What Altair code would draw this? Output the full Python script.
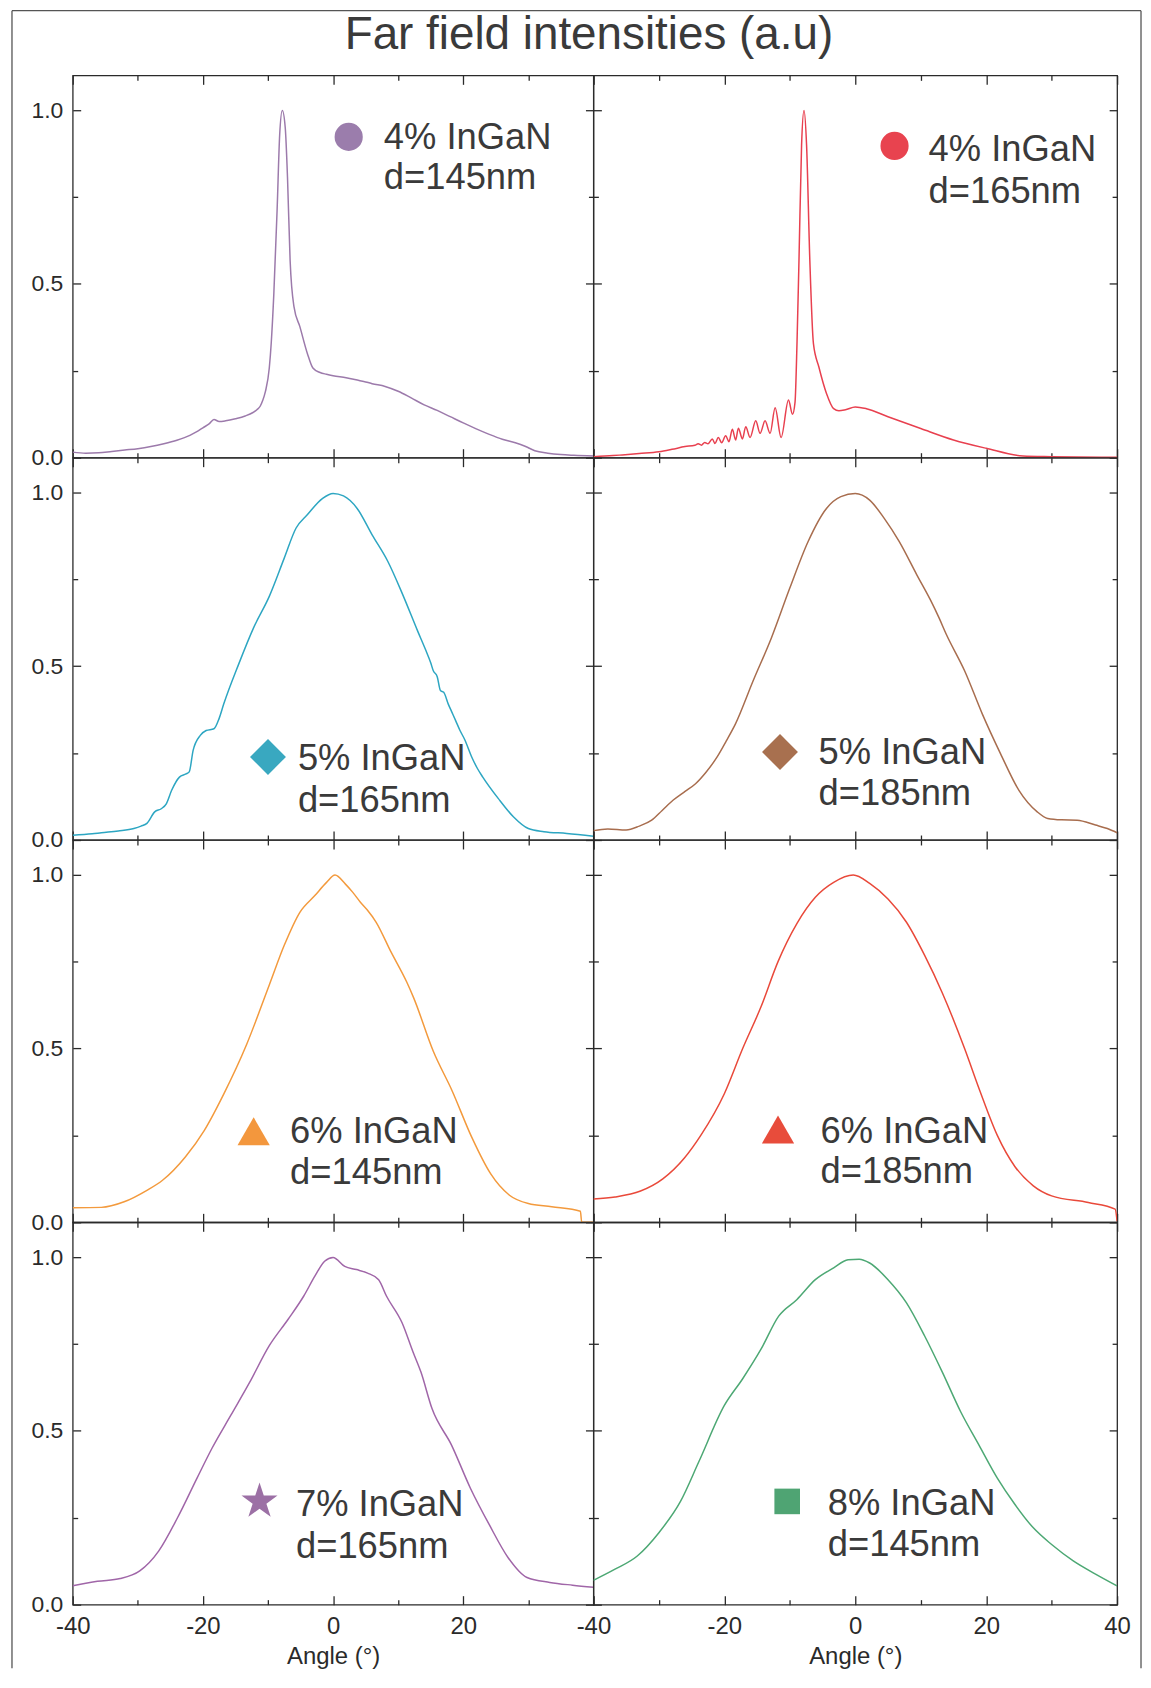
import altair as alt
import pandas as pd

# ---------------- data ----------------
ANGLE_4_145 = [-40, -38, -36, -34, -32, -30, -28, -26, -24, -22, -21, -20, -19, -18.3, -17.5, -16.5, -15,
               -13.5, -12.3, -11.7, -11.2, -10.8, -10.4, -9.8, -9.5, -9.1, -8.6, -8.2, -7.8, -7.35, -7.0,
               -6.6, -6.0, -5.1, -3.95, -3.1, -2.0, -1.0, 0, 2, 4, 5, 6, 8, 10, 12, 14, 16, 18, 20, 22, 24,
               26, 28, 29.5, 31, 33, 35, 37, 40]
INT_4_145 = [0.016, 0.013, 0.014, 0.018, 0.022, 0.026, 0.032, 0.040, 0.050, 0.064, 0.074, 0.086, 0.098,
             0.110, 0.104, 0.106, 0.112, 0.120, 0.130, 0.138, 0.148, 0.165, 0.190, 0.258, 0.330, 0.472,
             0.711, 0.930, 0.999, 0.950, 0.806, 0.568, 0.434, 0.377, 0.300, 0.258, 0.245, 0.240, 0.236,
             0.230, 0.222, 0.218, 0.213, 0.205, 0.191, 0.172, 0.152, 0.136, 0.118, 0.100, 0.083, 0.067,
             0.053, 0.043, 0.033, 0.020, 0.013, 0.009, 0.007, 0.005]

ANGLE_4_165 = [-40, -37, -35.6, -33, -30, -28, -26, -24.5, -24.0, -23.5, -23.0, -22.5, -21.84, -21.43,
               -20.92, -20.41, -19.80, -19.29, -18.78, -18.27, -17.86, -17.24, -16.73, -16.07, -15.20,
               -14.54, -13.78, -13.01, -12.24, -11.33, -10.20, -9.59, -9.2, -8.9, -8.6, -8.2, -7.83,
               -7.44, -6.94, -6.39, -5.56, -4.4, -3.3, -2.5, -1.5, 0, 1.7, 5, 10, 15, 20, 25.6, 30, 40]
INT_4_165 = [0.003, 0.006, 0.008, 0.012, 0.017, 0.024, 0.032, 0.036, 0.040, 0.036, 0.044, 0.040, 0.054,
             0.041, 0.058, 0.043, 0.063, 0.046, 0.082, 0.051, 0.085, 0.054, 0.089, 0.058, 0.106, 0.070,
             0.106, 0.070, 0.144, 0.058, 0.166, 0.125, 0.160, 0.330, 0.567, 0.900, 0.999, 0.900, 0.567,
             0.328, 0.261, 0.185, 0.141, 0.135, 0.138, 0.146, 0.141, 0.118, 0.084, 0.051, 0.027, 0.005,
             0.003, 0.001]

ANGLE_5_165 = [-40, -37, -35.6, -33, -30.6, -29.5, -28.6, -27.4, -26.4, -25.6, -24.8, -23.6, -22.6, -22.1,
               -21.5, -20.4, -19.5, -18.3, -17.5, -16.8, -14.5, -12.2, -9.8, -7.5, -5.7, -4.0, -1.6, 0,
               1.6, 3.7, 6.0, 8.4, 10.7, 13.0, 14.2, 15.0, 15.4, 16.0, 16.5, 17.0, 17.7, 18.2, 18.8, 19.5,
               20.2, 21.3, 22.2, 23.0, 25.4, 27.7, 30.0, 32.4, 35.9, 40]
INT_5_165 = [0.014, 0.018, 0.021, 0.026, 0.033, 0.040, 0.048, 0.081, 0.090, 0.105, 0.143, 0.181, 0.190,
             0.196, 0.258, 0.301, 0.315, 0.320, 0.350, 0.391, 0.506, 0.611, 0.701, 0.811, 0.897, 0.935,
             0.983, 0.997, 0.990, 0.954, 0.878, 0.802, 0.706, 0.601, 0.548, 0.510, 0.487, 0.470, 0.430,
             0.425, 0.391, 0.370, 0.345, 0.315, 0.290, 0.239, 0.205, 0.181, 0.119, 0.067, 0.033, 0.024,
             0.019, 0.011]

ANGLE_5_185 = [-40, -37.8, -35, -33, -31.1, -29.5, -27.8, -26, -24.4, -22.8, -21.1, -19.7, -18.3, -15.6,
               -12.8, -10, -7.2, -4.4, -2.2, 0, 2.2, 4.4, 6.7, 9.4, 11.5, 12.8, 13.9, 16.7, 19.4, 22.2,
               25.0, 27.8, 29.4, 31.5, 33.9, 36.7, 38.5, 40]
INT_5_185 = [0.027, 0.032, 0.029, 0.040, 0.057, 0.085, 0.115, 0.140, 0.162, 0.195, 0.239, 0.285, 0.334,
             0.458, 0.582, 0.725, 0.859, 0.954, 0.988, 0.997, 0.978, 0.926, 0.859, 0.763, 0.690, 0.639,
             0.592, 0.487, 0.363, 0.248, 0.143, 0.081, 0.062, 0.058, 0.057, 0.043, 0.033, 0.021]

ANGLE_6_145 = [-40, -35.6, -32.1, -28.6, -26.2, -22.7, -19.8, -16.8, -13.3, -9.8, -7.5, -5.1, -2.8, -1.0,
               0.3, 1.9, 3.0, 4.2, 5.2, 6.6, 8.9, 11.3, 12.4, 15.4, 18.3, 21.3, 24.2, 27.1, 30.0, 33.6,
               38.0, 38.2, 40]
INT_6_145 = [0.042, 0.043, 0.059, 0.092, 0.121, 0.188, 0.264, 0.369, 0.511, 0.683, 0.797, 0.892, 0.940,
             0.978, 0.999, 0.973, 0.950, 0.921, 0.900, 0.864, 0.778, 0.692, 0.645, 0.492, 0.378, 0.245,
             0.140, 0.078, 0.054, 0.045, 0.032, 0.000, 0.000]

ANGLE_6_185 = [-40, -36.7, -32.8, -29.4, -26.1, -23.6, -20, -17.2, -14.4, -11.8, -8.9, -6.1, -3.3, -0.3,
               2.2, 5.0, 7.8, 10.6, 13.3, 16.7, 19.0, 21.7, 24.4, 27.2, 30.0, 35.6, 39.7, 40]
INT_6_185 = [0.067, 0.073, 0.090, 0.125, 0.185, 0.250, 0.370, 0.500, 0.620, 0.750, 0.860, 0.935, 0.978,
             0.999, 0.975, 0.930, 0.864, 0.768, 0.660, 0.500, 0.380, 0.250, 0.160, 0.105, 0.076,
             0.057, 0.038, 0.003]

ANGLE_7_165 = [-40, -36.2, -32.7, -29.7, -26.8, -23.9, -20.9, -18.6, -15.7, -12.8, -9.8, -6.9, -4.5, -2.8,
               -1.3, 0, 1.8, 3.6, 5.3, 7.0, 8.2, 10.6, 12.3, 13.5, 15.2, 18.2, 21.1, 24.0, 26.9, 29.8,
               33.3, 36.8, 40]
INT_7_165 = [0.054, 0.067, 0.075, 0.097, 0.154, 0.250, 0.364, 0.450, 0.545, 0.640, 0.745, 0.821, 0.888,
             0.945, 0.988, 0.999, 0.973, 0.964, 0.954, 0.935, 0.888, 0.811, 0.726, 0.669, 0.564, 0.459,
             0.335, 0.230, 0.135, 0.078, 0.064, 0.056, 0.050]

ANGLE_8_145 = [-40, -36.7, -33.3, -30.0, -26.7, -23.9, -20, -17.2, -14.4, -11.7, -8.9, -6.1, -3.3, -1.1,
               0.6, 2.2, 5.0, 7.8, 10.6, 13.3, 16.1, 18.9, 21.7, 24.4, 27.2, 30.0, 33.3, 36.7, 40]
INT_8_145 = [0.070, 0.102, 0.140, 0.207, 0.297, 0.411, 0.573, 0.650, 0.735, 0.830, 0.878, 0.935, 0.969,
             0.992, 0.994, 0.983, 0.935, 0.869, 0.773, 0.669, 0.555, 0.459, 0.364, 0.288, 0.221, 0.173,
             0.126, 0.088, 0.054]

PANEL_ANGLES = [ANGLE_4_145, ANGLE_4_165, ANGLE_5_165, ANGLE_5_185,
                ANGLE_6_145, ANGLE_6_185, ANGLE_7_165, ANGLE_8_145]
PANEL_INTENS = [INT_4_145, INT_4_165, INT_5_165, INT_5_185,
                INT_6_145, INT_6_185, INT_7_165, INT_8_145]

LABEL_TOP = ["4% InGaN", "4% InGaN", "5% InGaN", "5% InGaN",
             "6% InGaN", "6% InGaN", "7% InGaN", "8% InGaN"]
LABEL_BOTTOM = ["d=145nm", "d=165nm", "d=165nm", "d=185nm",
                "d=145nm", "d=185nm", "d=165nm", "d=145nm"]

# legend marker / text placement (data units)
MARKER_X = [2.4, 6.0, -10.0, -11.5, -12.2, -11.8, -11.3, -10.4]
MARKER_Y = [0.923, 0.897, 0.239, 0.253, 0.262, 0.267, 0.297, 0.297]
TEXT_X = [7.8, 11.2, -5.4, -5.6, -6.6, -5.3, -5.7, -4.2]
TEXT_Y1 = [0.887, 0.854, 0.200, 0.219, 0.228, 0.229, 0.254, 0.259]
TEXT_Y2 = [0.773, 0.734, 0.081, 0.100, 0.111, 0.112, 0.135, 0.140]

X_LABELS_LEFT = [-40, -20, 0, 20]
X_LABELS_RIGHT = [-40, -20, 0, 20, 40]
X_MAJOR = [-40, -20, 0, 20, 40]
X_MINOR = [-30, -10, 10, 30]
Y_LABELS = [0, 0.5, 1.0]
Y_MINOR = [0.25, 0.75]

# ---------------- styles ----------------
LINE_COLORS = ["#9c7aab", "#e8404f", "#2da6c2", "#a86d4e", "#f39a3d", "#e9493a", "#a066a8", "#4da874"]
MARKER_COLORS = ["#9b7dac", "#e8434f", "#39a8c0", "#a8704f", "#f3973d", "#e84c3b", "#9c70a5", "#4fa473"]
STAR = ("M0,-1L0.2245,-0.309L0.951,-0.309L0.363,0.118L0.588,0.809L0,0.382L-0.588,0.809"
        "L-0.363,0.118L-0.951,-0.309L-0.2245,-0.309Z")
MARKER_SHAPES = ["circle", "circle", "diamond", "diamond", "triangle-up", "triangle-up", STAR, "square"]
MARKER_SIZES = [800, 800, 1300, 1300, 1050, 1050, 1450, 660]

FONT = "Liberation Sans, Arial, Helvetica, sans-serif"
AX = "#2a2a2a"
TXT = "#3a3a3a"
FRAME = "#555555"
PW_LEFT, PW_RIGHT, PH = 523, 526, 384
XS = alt.Scale(domain=[-40, 40], nice=False, zero=False)
YS = alt.Scale(domain=[0, 1.1], nice=False, zero=False)

# outer figure frame, in pixels relative to the top-left panel
FRAME_LEFT, FRAME_RIGHT, FRAME_TOP, FRAME_BOTTOM = -61, 1073, -65, 1600


def tick_axis(orient, values, size):
    return alt.Axis(orient=orient, values=values, tickSize=size, offset=-size, labels=False,
                    domain=False, grid=False, ticks=True, tickColor=AX, tickWidth=1.3)


dummy = pd.DataFrame({"v": [0]})


def panel(k):
    row, col = divmod(k, 2)
    df = pd.DataFrame({"angle": PANEL_ANGLES[k], "intensity": PANEL_INTENS[k]})
    base = alt.Chart(df)

    if row == 3:
        xaxis = alt.Axis(orient="bottom", values=X_LABELS_LEFT if col == 0 else X_LABELS_RIGHT,
                         labelExpr="'' + datum.value", ticks=False, domain=False, grid=False,
                         labelFlush=False, labelOverlap=False, labelFontSize=24, labelPadding=10,
                         labelColor=AX, labelFont=FONT, title="Angle (°)", titleFontSize=24,
                         titleFontWeight="normal", titleColor=AX, titleFont=FONT, titlePadding=6)
    else:
        xaxis = None
    if col == 0:
        yaxis = alt.Axis(orient="left", values=Y_LABELS, format=".1f", ticks=False, domain=False,
                         grid=False, labelFlush=False, labelOverlap=False, labelFontSize=23,
                         labelPadding=10, labelColor=AX, labelFont=FONT)
    else:
        yaxis = None

    line = base.mark_line(color=LINE_COLORS[k], strokeWidth=1.5, clip=True,
                          interpolate="monotone").encode(
        x=alt.X("angle:Q", scale=XS, axis=xaxis, title="Angle (°)" if row == 3 else None),
        y=alt.Y("intensity:Q", scale=YS, axis=yaxis, title=None),
    )

    def ticks(xo, xv, xs, yo, yv, ys):
        return base.mark_line(strokeOpacity=0).encode(
            x=alt.X("angle:Q", scale=XS, title=None, axis=tick_axis(xo, xv, xs)),
            y=alt.Y("intensity:Q", scale=YS, title=None, axis=tick_axis(yo, yv, ys)),
        )

    t1 = ticks("bottom", X_MAJOR, 9, "left", Y_LABELS, 8)
    t2 = ticks("bottom", X_MINOR, 5, "left", Y_MINOR, 5)
    t3 = ticks("top", X_MAJOR, 9, "right", Y_LABELS, 8)
    t4 = ticks("top", X_MINOR, 5, "right", Y_MINOR, 5)

    mdf = pd.DataFrame({"angle": [MARKER_X[k]], "intensity": [MARKER_Y[k]]})
    marker = alt.Chart(mdf).mark_point(shape=MARKER_SHAPES[k], filled=True, size=MARKER_SIZES[k],
                                       color=MARKER_COLORS[k], opacity=1).encode(
        x=alt.X("angle:Q", scale=XS, axis=None),
        y=alt.Y("intensity:Q", scale=YS, axis=None),
    )
    tdf = pd.DataFrame({"angle": [TEXT_X[k], TEXT_X[k]],
                        "intensity": [TEXT_Y1[k], TEXT_Y2[k]],
                        "label": [LABEL_TOP[k], LABEL_BOTTOM[k]]})
    text = alt.Chart(tdf).mark_text(align="left", baseline="alphabetic", fontSize=36.5, font=FONT,
                                    color=TXT).encode(
        x=alt.X("angle:Q", scale=XS, axis=None),
        y=alt.Y("intensity:Q", scale=YS, axis=None),
        text="label:N",
    )
    layers = [line, t1, t2, t3, t4, marker, text]
    props = dict(width=PW_LEFT if col == 0 else PW_RIGHT, height=PH,
                 view=alt.ViewBackground(stroke=AX, strokeWidth=1.3))

    if k == 0:
        # outer frame of the figure (decoration only)
        fr = alt.Chart(dummy).mark_rule(color=FRAME, strokeWidth=1.3)
        layers += [
            fr.encode(x=alt.value(FRAME_LEFT), y=alt.value(FRAME_TOP), y2=alt.value(FRAME_BOTTOM)),
            fr.encode(x=alt.value(FRAME_RIGHT), y=alt.value(FRAME_TOP), y2=alt.value(FRAME_BOTTOM)),
            fr.encode(x=alt.value(FRAME_LEFT), x2=alt.value(FRAME_RIGHT), y=alt.value(FRAME_TOP)),
        ]
        # the title sits inside the frame, below its top edge
        props["title"] = alt.TitleParams(
            "Far field intensities (a.u)", orient="top", anchor="middle", frame="group",
            fontSize=46, font=FONT, fontWeight="normal", color=TXT, offset=-85, dx=257,
            baseline="alphabetic")

    return alt.layer(*layers).resolve_axis(x="independent", y="independent").properties(**props)


chart = alt.concat(*[panel(k) for k in range(8)], columns=2, spacing=0, bounds="flush").properties(
    padding={"left": 2, "top": -3, "right": 0, "bottom": 0}
).configure(background="white")

chart.save("out.html", embed_options={"renderer": "svg", "actions": False})
